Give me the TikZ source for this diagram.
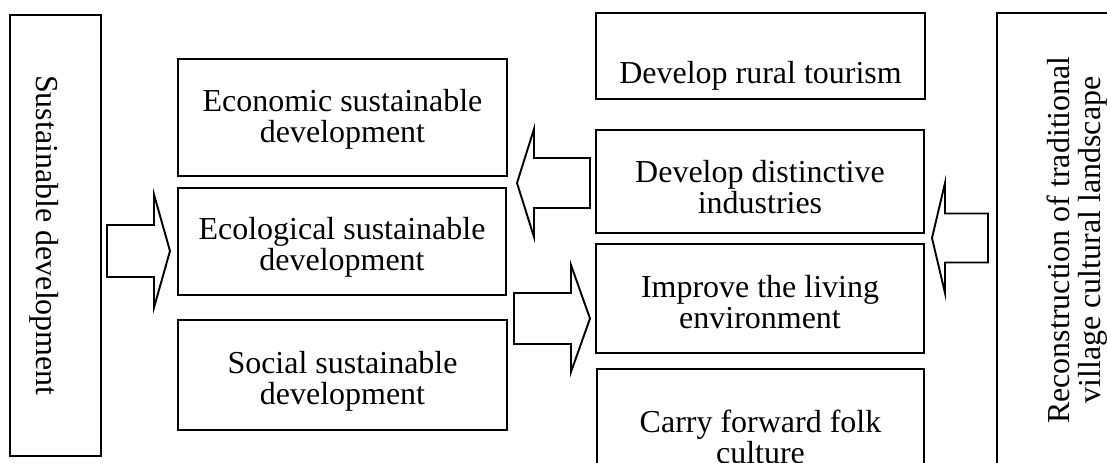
\documentclass[tikz,border=0pt]{standalone}
\usepackage{fontspec}
\setmainfont{Liberation Serif}
\tikzset{
  box/.style={draw, line width=1.1pt, inner sep=0pt},
  txt/.style={align=center, inner sep=0pt, font=\fontsize{18.2}{17.6}\selectfont},
  blk/.style={draw, line width=1.1pt, fill=white, line join=miter}
}
\begin{document}
\begin{tikzpicture}[x=0.02cm, y=-0.02cm]
\useasboundingbox (0,0) rectangle (1107,463);
\clip (0,0) rectangle (1107,463);

\node[box, minimum width=1.82cm, minimum height=8.82cm] (sust) at (55.5,235.5) {};
\node[txt, rotate=-90] (sust-t) at (44,235.5) {Sustainable development};

\node[box, minimum width=6.58cm, minimum height=2.34cm] (econ) at (342.5,117.5) {};
\node[txt] (econ-t) at (342.5,119) {Economic sustainable\\development};
\node[box, minimum width=6.56cm, minimum height=2.14cm] (ecol) at (342,241.5) {};
\node[txt] (ecol-t) at (342,247) {Ecological sustainable\\development};
\node[box, minimum width=6.58cm, minimum height=2.2cm] (soc) at (342.5,375) {};
\node[txt] (soc-t) at (342.5,381) {Social sustainable\\development};

\node[box, minimum width=6.58cm, minimum height=1.72cm] (tour) at (760.5,56) {};
\node[txt] (tour-t) at (760.5,75.5) {Develop rural tourism};
\node[box, minimum width=6.56cm, minimum height=2.06cm] (dist) at (760,181.5) {};
\node[txt] (dist-t) at (760,187) {Develop distinctive\\industries};
\node[box, minimum width=6.56cm, minimum height=2.18cm] (impr) at (760,298.5) {};
\node[txt] (impr-t) at (760,302) {Improve the living\\environment};
\node[box, minimum width=6.54cm, minimum height=2.42cm] (carry) at (760.5,429.5) {};
\node[txt] (carry-t) at (760.5,437) {Carry forward folk\\culture};

\node[box, minimum width=3.06cm, minimum height=10.14cm] (recon) at (1073.5,266.5) {};
\node[txt, rotate=90] (recon-t) at (1077,240) {Reconstruction of traditional\\village cultural landscape};

% block arrows: tail x / head base x / tip x / mid y / half shaft / half head
\foreach \t/\h/\e/\y/\s/\w in {107/154/170/251/26/56.5, 590/534/517/183/25/54,
                               514/571/590/318.5/25.5/53.5, 988/945/932/238/24.5/55}
{
    \draw[blk] (\t,\y-\s)--(\h,\y-\s)--(\h,\y-\w)--(\e,\y)--(\h,\y+\w)--(\h,\y+\s)--(\t,\y+\s)--cycle;
}

\end{tikzpicture}
\end{document}
